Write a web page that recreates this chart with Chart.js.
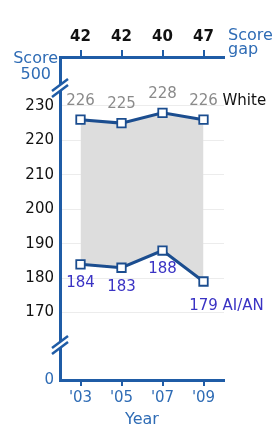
<!DOCTYPE html>
<html>
<head>
<meta charset="utf-8">
<script src="https://cdn.jsdelivr.net/npm/chart.js@4.4.1/dist/chart.umd.min.js"></script>
<style>
  html, body { margin: 0; padding: 0; background: #fff; }
  #wrap { position: relative; width: 276px; height: 429px; }
</style>
</head>
<body>
<div id="wrap"><canvas id="gapChart"></canvas></div>
<script>
// ==================== DATA ====================
const years = ["'03", "'05", "'07", "'09"];
const scoreGap = ['42', '42', '40', '47'];
const whiteScores = [226, 225, 228, 226];
const aianScores = [184, 183, 188, 179];
const yTicks = [170, 180, 190, 200, 210, 220, 230];

const AXIS_BLUE = '#1f5ca6';
const LINE_BLUE = '#1b4d8f';
const TEXT_BLUE = '#2f6cb5';
const FONT = "'DejaVu Sans', sans-serif";

// the broken axis: bottom of the plot stands for 0, top for 500
const Y_MIN = 150.4;
const Y_MAX = 244.2;

// ==================== PLUGINS ====================
const valueLabels = {
    id: 'valueLabels',
    afterDatasetsDraw(chart) {
        const ctx = chart.ctx;
        ctx.save();
        ctx.font = '15px ' + FONT;
        ctx.textAlign = 'center';
        ctx.textBaseline = 'middle';

        const wPts = chart.getDatasetMeta(0).data;
        wPts.forEach((p, i) => {
            ctx.fillStyle = '#8a8a8a';
            ctx.fillText(String(whiteScores[i]), p.x, p.y - 19);
        });
        const lastW = wPts[wPts.length - 1];
        ctx.fillStyle = '#111';
        ctx.textAlign = 'left';
        ctx.fillText('White', lastW.x + 19, lastW.y - 19);

        ctx.textAlign = 'center';
        const aPts = chart.getDatasetMeta(1).data;
        aPts.forEach((p, i) => {
            ctx.fillStyle = '#3a33c4';
            const dy = i === aPts.length - 1 ? 25 : 19;
            ctx.fillText(String(aianScores[i]), p.x, p.y + dy);
        });
        const lastA = aPts[aPts.length - 1];
        ctx.textAlign = 'left';
        ctx.fillText('AI/AN', lastA.x + 19, lastA.y + 25);
        ctx.restore();
    }
};

const axisDecor = {
    id: 'axisDecor',
    afterDraw(chart) {
        const ctx = chart.ctx;
        const area = chart.chartArea;
        const x = area.left;
        ctx.save();

        // axis breaks
        [89, 346].forEach(cy => {
            ctx.fillStyle = '#fff';
            ctx.beginPath();
            ctx.moveTo(x - 8, cy + 2);
            ctx.lineTo(x + 8, cy - 10);
            ctx.lineTo(x + 8, cy - 4);
            ctx.lineTo(x - 8, cy + 8);
            ctx.closePath();
            ctx.fill();
            ctx.strokeStyle = AXIS_BLUE;
            ctx.lineWidth = 2.5;
            ctx.beginPath();
            ctx.moveTo(x - 8, cy + 2);
            ctx.lineTo(x + 8, cy - 10);
            ctx.moveTo(x - 8, cy + 8);
            ctx.lineTo(x + 8, cy - 4);
            ctx.stroke();
        });

        // axis captions
        ctx.fillStyle = TEXT_BLUE;
        ctx.font = '16px ' + FONT;
        ctx.textBaseline = 'middle';
        ctx.textAlign = 'right';
        ctx.fillText('Score', 58, 59);
        ctx.fillText('500', 51, 75);
        ctx.textAlign = 'left';
        ctx.fillText('Score', 228, 36);
        ctx.fillText('gap', 228, 50);
        ctx.restore();
    }
};

// ==================== CHART ====================
const ctx = document.getElementById('gapChart');
const gapChart = new Chart(ctx, {
    type: 'line',
    data: {
        labels: years,
        datasets: [{
            label: 'White',
            data: whiteScores,
            borderColor: LINE_BLUE,
            borderWidth: 3,
            fill: false,
            tension: 0,
            pointStyle: 'rect',
            pointRadius: 6,
            pointBackgroundColor: '#fff',
            pointBorderColor: LINE_BLUE,
            pointBorderWidth: 1.8
        }, {
            label: 'AI/AN',
            data: aianScores,
            borderColor: LINE_BLUE,
            borderWidth: 3,
            backgroundColor: '#dddddd',
            fill: '-1',
            tension: 0,
            pointStyle: 'rect',
            pointRadius: 6,
            pointBackgroundColor: '#fff',
            pointBorderColor: LINE_BLUE,
            pointBorderWidth: 1.8
        }]
    },
    options: {
        responsive: true,
        maintainAspectRatio: false,
        animation: false,
        layout: { padding: { top: 0, left: 0, right: 52, bottom: 0 } },
        plugins: {
            legend: { display: false },
            tooltip: { enabled: false }
        },
        scales: {
            x: {
                type: 'category',
                position: 'bottom',
                offset: true,
                border: { display: true, color: AXIS_BLUE, width: 3 },
                grid: { display: true, drawOnChartArea: false, drawTicks: true, tickLength: 6, color: AXIS_BLUE, lineWidth: 2 },
                ticks: { color: TEXT_BLUE, font: { family: FONT, size: 15 }, padding: 3, maxRotation: 0 },
                title: { display: true, text: 'Year', color: TEXT_BLUE, font: { family: FONT, size: 16 }, padding: { top: 0, bottom: 0 } },
                afterFit(scale) { scale.height = 49; }
            },
            xTop: {
                type: 'category',
                position: 'top',
                offset: true,
                labels: scoreGap,
                border: { display: true, color: AXIS_BLUE, width: 3 },
                grid: { display: true, drawOnChartArea: false, drawTicks: true, tickLength: 7, color: AXIS_BLUE, lineWidth: 2 },
                ticks: { color: '#111', font: { family: FONT, size: 15, weight: 'bold' }, padding: 4, maxRotation: 0 },
                afterFit(scale) { scale.height = 57; }
            },
            y: {
                type: 'linear',
                position: 'left',
                min: Y_MIN,
                max: Y_MAX,
                border: { display: true, color: AXIS_BLUE, width: 3 },
                afterBuildTicks(scale) {
                    scale.ticks = [{ value: Y_MIN }].concat(yTicks.map(v => ({ value: v })));
                },
                grid: {
                    drawTicks: false,
                    color: c => (c.tick && c.tick.value === Y_MIN) ? 'rgba(0,0,0,0)' : '#ececec',
                    lineWidth: 1
                },
                ticks: {
                    color: c => (c.tick && c.tick.value === Y_MIN) ? TEXT_BLUE : '#111',
                    font: { family: FONT, size: 15 },
                    padding: 6,
                    callback: v => (v === Y_MIN ? '0' : String(v))
                },
                afterFit(scale) { scale.width = 60; }
            }
        }
    },
    plugins: [valueLabels, axisDecor]
});
</script>
</body>
</html>
